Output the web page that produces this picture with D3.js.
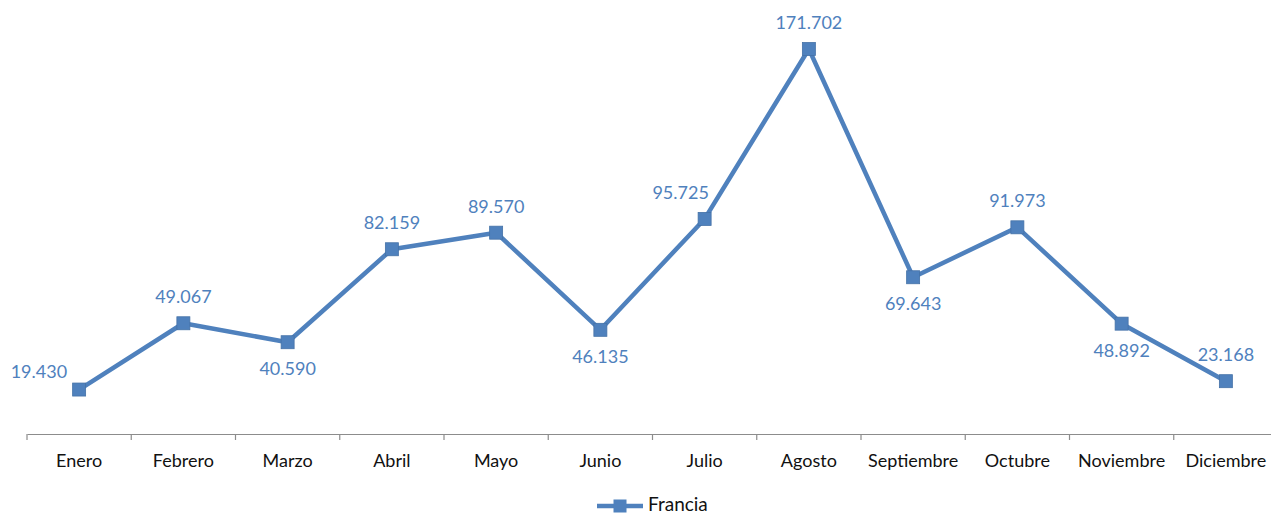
<!DOCTYPE html>
<html>
<head>
<meta charset="utf-8">
<script src="https://cdn.jsdelivr.net/npm/d3@7"></script>
<style>
  html, body { margin: 0; padding: 0; background: #fff; }
  svg { display: block; font-family: Lato, "Open Sans", sans-serif; }
</style>
</head>
<body>
<svg id="chart" width="1271" height="515"></svg>
<script>
const months = ["Enero", "Febrero", "Marzo", "Abril", "Mayo", "Junio", "Julio",
  "Agosto", "Septiembre", "Octubre", "Noviembre", "Diciembre"];
const francia = [19.430, 49.067, 40.590, 82.159, 89.570, 46.135, 95.725,
  171.702, 69.643, 91.973, 48.892, 23.168];
const labelSide = ["left", "above", "below", "above", "above", "below", "aboveLeft",
  "above", "below", "above", "below", "above"];
const seriesName = "Francia";

const color = "#4f81bd";
const svg = d3.select("#chart");

const x = d3.scaleBand().domain(months).range([27, 1278]).padding(0);
const y = d3.scaleLinear().domain([0, 171.702]).range([433, 49]);
const fmt = (v) => v.toFixed(3);

// x axis
const axis = svg.append("g")
  .attr("transform", "translate(0,434)")
  .call(d3.axisBottom(x).tickSize(0).tickPadding(20));
axis.select(".domain").attr("stroke", "#8c8c8c").attr("stroke-width", 1.2);
axis.selectAll(".tick text")
  .attr("font-family", "Lato, 'Open Sans', sans-serif")
  .attr("font-size", 18)
  .attr("fill", "#111");

// tick marks at band boundaries
const bounds = months.map((m) => x(m)).concat([x.range()[1]]);
axis.selectAll("line.band")
  .data(bounds)
  .enter()
  .append("line")
  .attr("class", "band")
  .attr("x1", (d) => d).attr("x2", (d) => d)
  .attr("y1", 0).attr("y2", 6)
  .attr("stroke", "#8c8c8c")
  .attr("stroke-width", 1.2);

// line
const line = d3.line()
  .x((d, i) => x(months[i]) + x.bandwidth() / 2)
  .y((d) => y(d));

svg.append("path")
  .datum(francia)
  .attr("d", line)
  .attr("fill", "none")
  .attr("stroke", color)
  .attr("stroke-width", 4.5)
  .attr("stroke-linejoin", "round");

// markers
svg.selectAll("rect.marker")
  .data(francia)
  .enter()
  .append("rect")
  .attr("class", "marker")
  .attr("x", (d, i) => x(months[i]) + x.bandwidth() / 2 - 6.5)
  .attr("y", (d) => y(d) - 6.5)
  .attr("width", 13)
  .attr("height", 13)
  .attr("fill", color)
  .attr("stroke", "#4572a7")
  .attr("stroke-width", 0.8);

// value labels
const offsets = {
  above: { dx: 0, dy: -20, anchor: "middle" },
  below: { dx: 0, dy: 33, anchor: "middle" },
  left: { dx: -12, dy: -12, anchor: "end" },
  aboveLeft: { dx: -24, dy: -20, anchor: "middle" }
};

svg.selectAll("text.value")
  .data(francia)
  .enter()
  .append("text")
  .attr("class", "value")
  .attr("x", (d, i) => x(months[i]) + x.bandwidth() / 2 + offsets[labelSide[i]].dx)
  .attr("y", (d, i) => y(d) + offsets[labelSide[i]].dy)
  .attr("text-anchor", (d, i) => offsets[labelSide[i]].anchor)
  .attr("font-size", 18)
  .attr("fill", color)
  .text(fmt);

// legend
const legend = svg.append("g").attr("transform", "translate(597,506)");
legend.append("line")
  .attr("x1", 0).attr("x2", 46)
  .attr("y1", 0).attr("y2", 0)
  .attr("stroke", color)
  .attr("stroke-width", 4.5);
legend.append("rect")
  .attr("x", 23 - 6.5).attr("y", -6.5)
  .attr("width", 13).attr("height", 13)
  .attr("fill", color);
legend.append("text")
  .attr("x", 51)
  .attr("y", 5)
  .attr("font-size", 19)
  .attr("fill", "#111")
  .text(seriesName);
</script>
</body>
</html>
